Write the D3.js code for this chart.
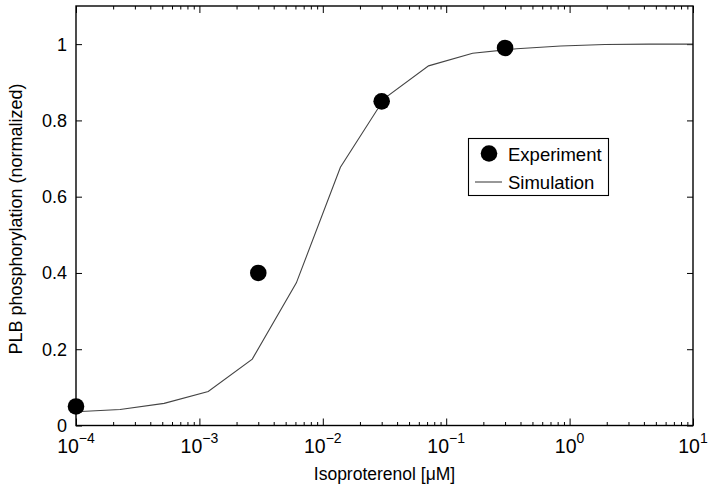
<!DOCTYPE html>
<html>
<head>
<meta charset="utf-8">
<script src="https://cdn.jsdelivr.net/npm/d3@7"></script>
<style>
  html, body { margin: 0; padding: 0; background: #fff; }
  svg { display: block; }
  text { font-family: "Liberation Sans", Arial, Helvetica, sans-serif; fill: #000; }
</style>
</head>
<body>
<svg id="chart" width="708" height="494"></svg>
<script>
// Isoproterenol concentration (µM) for the measured points
const expConc = [1e-4, 3e-3, 3e-2, 3e-1];
const expValue = [0.05, 0.40, 0.85, 0.99];

// Model output sampled at 15 log-spaced concentrations, 1e-4 .. 1e1 µM
const simConc = [1e-4, 2.276e-4, 5.179e-4, 1.179e-3, 2.683e-3, 6.105e-3, 1.389e-2, 3.162e-2,
                 7.197e-2, 0.1638, 0.3728, 0.8483, 1.931, 4.394, 10];
const simValue = [0.036, 0.042, 0.058, 0.089, 0.174, 0.374, 0.677, 0.858,
                  0.943, 0.976, 0.988, 0.995, 0.999, 1.0, 1.0];

const xMajor = [1e-4, 1e-3, 1e-2, 1e-1, 1e0, 1e1];
const xMajorExp = ["−4", "−3", "−2", "−1", "0", "1"];
const yTicks = [0, 0.2, 0.4, 0.6, 0.8, 1];
const yTickLabels = ["0", "0.2", "0.4", "0.6", "0.8", "1"];

const svg = d3.select("#chart");
const m = { left: 76, top: 6, right: 693, bottom: 425.5 };
const W = m.right - m.left, H = m.bottom - m.top;

const x = d3.scaleLog().domain([1e-4, 10]).range([m.left, m.right]);
const y = d3.scaleLinear().domain([0, 1.1]).range([m.bottom, m.top]);

// minor ticks: 2..9 within each decade
const xMinor = [];
xMajor.slice(0, -1).forEach(d => { for (let k = 2; k <= 9; k++) xMinor.push(d * k); });

const axisColor = "#000";
const g = svg.append("g");

function styleAxis(sel) {
  sel.select(".domain").remove();
  sel.selectAll(".tick line").attr("stroke", axisColor).attr("stroke-width", 1);
}

// bottom axis, inward ticks
g.append("g").attr("transform", `translate(0,${m.bottom})`)
  .call(d3.axisBottom(x).tickValues(xMinor).tickSize(-3.5).tickFormat(""))
  .call(styleAxis);
g.append("g").attr("transform", `translate(0,${m.bottom})`)
  .call(d3.axisBottom(x).tickValues(xMajor).tickSize(-7).tickFormat(""))
  .call(styleAxis);
// top axis
g.append("g").attr("transform", `translate(0,${m.top})`)
  .call(d3.axisTop(x).tickValues(xMinor).tickSize(-3.5).tickFormat(""))
  .call(styleAxis);
g.append("g").attr("transform", `translate(0,${m.top})`)
  .call(d3.axisTop(x).tickValues(xMajor).tickSize(-7).tickFormat(""))
  .call(styleAxis);
// left / right axes
g.append("g").attr("transform", `translate(${m.left},0)`)
  .call(d3.axisLeft(y).tickValues(yTicks).tickSize(-6).tickFormat(""))
  .call(styleAxis);
g.append("g").attr("transform", `translate(${m.right},0)`)
  .call(d3.axisRight(y).tickValues(yTicks).tickSize(-6).tickFormat(""))
  .call(styleAxis);

// x tick labels as 10 with superscript exponent
xMajor.forEach((d, i) => {
  const t = g.append("text")
    .attr("x", x(d)).attr("y", 453)
    .attr("text-anchor", "middle")
    .style("font-size", "19.5px");
  t.append("tspan").text("10");
  t.append("tspan").attr("dy", -10).style("font-size", "14px").text(xMajorExp[i]);
});

// y tick labels
yTicks.forEach((d, i) => {
  g.append("text")
    .attr("x", m.left - 9).attr("y", y(d) + 6.5)
    .attr("text-anchor", "end")
    .style("font-size", "18px")
    .text(yTickLabels[i]);
});

// simulation curve
const line = d3.line().x((d, i) => x(simConc[i])).y((d, i) => y(simValue[i]));
g.append("path")
  .datum(simValue)
  .attr("d", line)
  .attr("fill", "none")
  .attr("stroke", "#444")
  .attr("stroke-width", 1.1);

// experiment points
g.selectAll("circle.exp")
  .data(expValue)
  .join("circle")
  .attr("class", "exp")
  .attr("cx", (d, i) => x(expConc[i]))
  .attr("cy", d => y(d))
  .attr("r", 8.3)
  .attr("fill", "#000");

// frame
g.append("rect")
  .attr("x", m.left).attr("y", m.top).attr("width", W).attr("height", H)
  .attr("fill", "none").attr("stroke", axisColor).attr("stroke-width", 1.4);

// legend
const lg = g.append("g");
lg.append("rect")
  .attr("x", 468.5).attr("y", 138.5).attr("width", 140).attr("height", 57)
  .attr("fill", "#fff").attr("stroke", "#000").attr("stroke-width", 1.1);
lg.append("circle").attr("cx", 489).attr("cy", 153.5).attr("r", 8.3).attr("fill", "#000");
lg.append("text").attr("x", 508).attr("y", 160.5).style("font-size", "18.5px").text("Experiment");
lg.append("line").attr("x1", 475).attr("x2", 502).attr("y1", 182).attr("y2", 182)
  .attr("stroke", "#444").attr("stroke-width", 1.1);
lg.append("text").attr("x", 508).attr("y", 188.5).style("font-size", "18.5px").text("Simulation");

// axis titles
g.append("text")
  .attr("x", (m.left + m.right) / 2).attr("y", 480)
  .attr("text-anchor", "middle")
  .style("font-size", "17.5px")
  .text("Isoproterenol [μM]");
g.append("text")
  .attr("transform", `translate(22,219) rotate(-90)`)
  .attr("text-anchor", "middle")
  .style("font-size", "18px")
  .text("PLB phosphorylation (normalized)");
</script>
</body>
</html>
